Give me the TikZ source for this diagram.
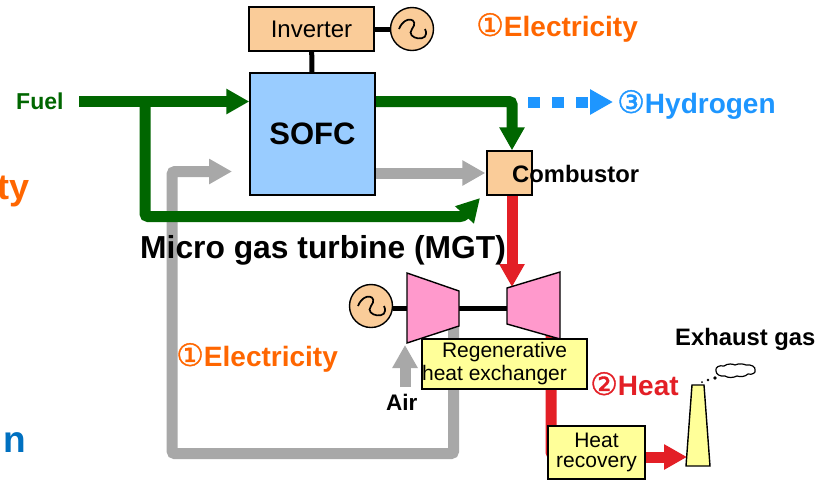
\documentclass[tikz,border=0pt]{standalone}
\usepackage{fontspec}
\usepackage{xcolor}
\usetikzlibrary{arrows.meta,backgrounds}
\setmainfont{Liberation Sans}
\newfontfamily\circfont[FakeBold=1.2]{DejaVu Sans}
\definecolor{fuelgreen}{HTML}{006600}
\definecolor{airgray}{HTML}{A8A8A8}
\definecolor{heatred}{HTML}{E31F26}
\definecolor{elecorange}{HTML}{FF6600}
\definecolor{hydroblue}{HTML}{1E96FF}
\definecolor{edgeblue}{HTML}{0070C0}
\definecolor{boxpeach}{HTML}{FACC99}
\definecolor{cellblue}{HTML}{99CCFF}
\definecolor{turbpink}{HTML}{FF99CC}
\definecolor{boxyellow}{HTML}{FFFF99}
\newcommand{\fs}[1]{\fontsize{#1}{#1}\selectfont}
\newcommand{\circnum}[1]{{\circfont\mdseries\fs{31}#1}}
\tikzset{
  unit/.style={draw,line width=1.4pt,inner sep=0pt,align=center},
  gen/.style={draw,circle,fill=boxpeach,line width=1.4pt,minimum size=43pt,inner sep=0pt},
  flow/.style={line width=11pt,rounded corners=3pt,-{Triangle[length=23pt,width=24pt]}},
  shaft/.style={line width=5pt},
  wave/.style={line width=1.7pt},
  txt/.style={inner sep=0pt,anchor=base west,font=\bfseries\fs{23.8}},
  big/.style={inner sep=0pt,anchor=base west,font=\bfseries\fs{28}}
}
\begin{document}
\begin{tikzpicture}[x=1pt,y=-1pt]
\useasboundingbox (0,0) rectangle (836,483);
% boxes
\node[unit,fill=boxpeach,minimum width=125pt,minimum height=44pt,font=\fs{24}] (Inverter) at (311.5,29) {Inverter};
\node[gen] (GenTop) at (412,29) {};
\node[unit,fill=cellblue,minimum width=125pt,minimum height=122pt,font=\bfseries\fs{31}] (SOFC) at (312.5,134) {SOFC};
\node[unit,fill=boxpeach,minimum width=45pt,minimum height=44pt] (Combustor) at (509.5,173) {};
\node[gen] (GenLow) at (371,306) {};
\draw[unit,fill=turbpink] (407,273) -- (459,291) -- (459,326) -- (407,343) -- cycle;
\draw[unit,fill=turbpink] (507,288) -- (560,272) -- (560,339) -- (507,324) -- cycle;
\node[unit,fill=boxyellow,minimum width=165pt,minimum height=50pt,font=\fontsize{21}{23}\selectfont] (Regen) at (504.5,364) {Regenerative\\heat exchanger\hspace*{20pt}};
\node[unit,fill=boxyellow,minimum width=97pt,minimum height=53pt,font=\fontsize{21}{20}\selectfont] (Recovery) at (596.5,452.5) {Heat\\recovery};
\draw[unit,fill=boxyellow] (692,385) -- (704,385) -- (710,466) -- (686,466) -- cycle;
\coordinate (Stack) at (687,457);
\coordinate (FuelIn) at (79,101.5);
\coordinate (Branch) at (145,101.5);
\coordinate (BranchLow) at (463,216.5);
\coordinate (BranchTip) at (480,198);
\coordinate (CompOut) at (453.7,320);
\coordinate (ReturnLow) at (172,453.7);
\coordinate (ReturnTip) at (232,171.5);
\coordinate (AirIn) at (405,387);
\coordinate (AirTip) at (405,345);
\coordinate (TurbIn) at (512,287);
\coordinate (TurbOut) at (551,335);
\coordinate (RecoveryIn) at (575,455);
\coordinate (HydroOut) at (528,102);
\coordinate (HydroTip) at (613,102);
% connectors
\begin{scope}[on background layer]
\draw[shaft] (Inverter) -- (SOFC);
\draw[shaft] (Inverter) -- (GenTop);
\draw[shaft] (GenLow.east |- 0,308) -- (407,308);
\draw[shaft] (459,308) -- (507,308);
\draw[flow,airgray] (CompOut) |- (ReturnLow) |- (ReturnTip);
\draw[flow,airgray] (Combustor.west -| SOFC.east) -- ([xshift=-1pt]Combustor.west);
\draw[flow,airgray] (AirIn) -- (AirTip);
\draw[flow,fuelgreen] (FuelIn) -- (FuelIn -| SOFC.west);
\draw[flow,fuelgreen] (Branch) |- (BranchLow) -- (BranchTip);
\draw[flow,heatred] ([xshift=2.5pt]Combustor.south) -- (TurbIn);
\draw[flow,heatred,-] (TurbOut) |- (RecoveryIn);
\draw[flow,heatred] (Stack -| Recovery.east) -- (Stack);
\draw[flow,hydroblue,dash pattern=on 12pt off 12pt,rounded corners=0pt] (HydroOut) -- (HydroTip);
\draw[flow,fuelgreen] (SOFC.east |- FuelIn) -| ([xshift=2.5pt]Combustor.north);
\end{scope}
% generators
\draw[wave] ([xshift=-13pt]GenTop.center) .. controls +(6,-15) and +(8,-10) .. (GenTop.center) .. controls +(-8,10) and +(7,15) .. ([xshift=13pt]GenTop.center);
\draw[wave] ([xshift=-13pt]GenLow.center) .. controls +(6,-15) and +(8,-10) .. (GenLow.center) .. controls +(-8,10) and +(7,15) .. ([xshift=13pt]GenLow.center);
% exhaust
\draw[line width=1.2pt] (716,371) .. controls (715,367) and (719,365) .. (724,366) .. controls (728,363) and (733,364) .. (735,365) .. controls (739,363) and (744,364) .. (746,365) .. controls (751,364) and (756,367) .. (755,370) .. controls (756,373) and (752,375) .. (748,374) .. controls (745,377) and (740,377) .. (737,376) .. controls (733,378) and (728,378) .. (725,376) .. controls (720,377) and (716,374) .. (716,371) -- cycle;
\fill (715,378) circle (1.8pt);
\fill (708,380) circle (1.3pt);
\fill (702,382) circle (1pt);
% labels
\node[txt,text=fuelgreen,font=\bfseries\fs{23}] (LabFuel) at (16,109.5) {Fuel};
\node[txt] (LabComb) at (512,182) {Combustor};
\node[txt,font=\bfseries\fs{31.8}] (LabMGT) at (140,258) {Micro gas turbine (MGT)};
\node[txt,font=\bfseries\fs{22.5}] (LabAir) at (386,410) {Air};
\node[txt] (LabExhaust) at (675,345) {Exhaust gas};
\node[big,text=elecorange] (LabElecTop) at (476,36) {\circnum{①}Electricity};
\node[big,text=elecorange] (LabElecLow) at (176,366) {\circnum{①}Electricity};
\node[big,text=hydroblue] (LabHydro) at (617,113) {\circnum{③}Hydrogen};
\node[big,text=heatred] (LabHeat) at (590,395) {\circnum{②}Heat};
\node[inner sep=0pt,anchor=base east,text=elecorange,font=\bfseries\fs{36}] (LabCutA) at (30,199) {ty};
\node[inner sep=0pt,anchor=base east,text=edgeblue,font=\bfseries\fs{37}] (LabCutB) at (26,452) {n};
\end{tikzpicture}
\end{document}
